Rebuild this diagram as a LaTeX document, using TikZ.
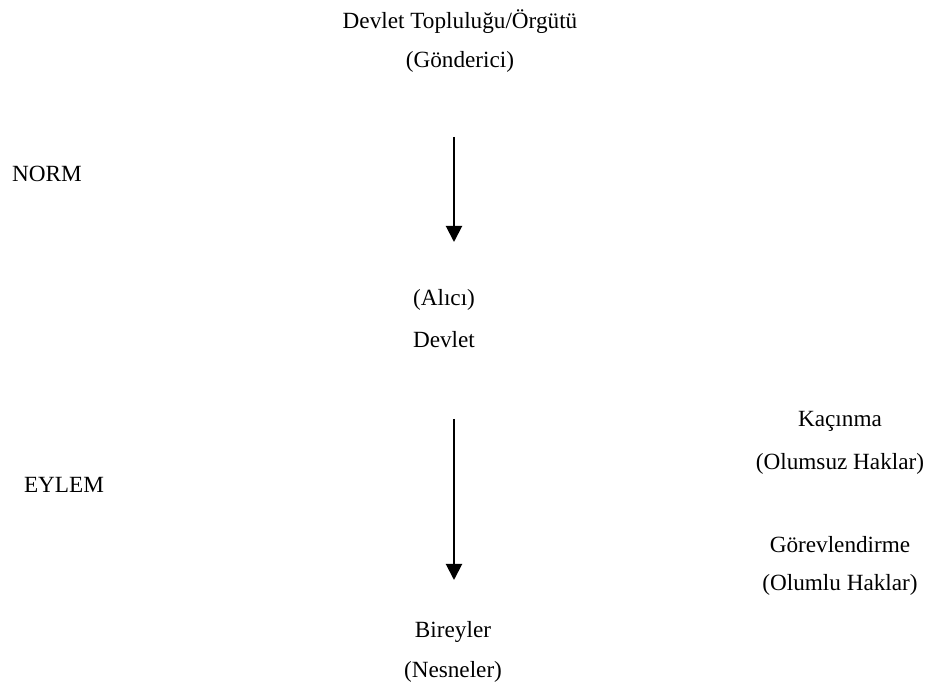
\documentclass[tikz,border=0pt]{standalone}
\usepackage{fontspec}
\setmainfont{Liberation Serif}
\usetikzlibrary{arrows.meta}
\begin{document}
\begin{tikzpicture}[x=0.01cm,y=-0.01cm,
  lbl/.style={inner sep=0pt,font=\fontsize{6.6}{8}\selectfont},
  flow/.style={line width=0.02cm,-{Triangle[width=0.16cm,length=0.16cm]}}]
\useasboundingbox (0,0) rectangle (932,691);
\node[lbl] (send1) at (460,22) {Devlet Topluluğu/Örgütü};
\node[lbl] (send2) at (460,62) {(Gönderici)};
\node[lbl] (norm) at (47,174) {NORM};
\node[lbl] (recv1) at (444,300) {(Alıcı)};
\node[lbl] (recv2) at (444,340) {Devlet};
\node[lbl] (eylem) at (64,485) {EYLEM};
\node[lbl] (kac1) at (840,421) {Kaçınma};
\node[lbl] (kac2) at (840,464) {(Olumsuz Haklar)};
\node[lbl] (gor1) at (840,545) {Görevlendirme};
\node[lbl] (gor2) at (840,585) {(Olumlu Haklar)};
\node[lbl] (bir1) at (453,632) {Bireyler};
\node[lbl] (bir2) at (453,672) {(Nesneler)};
\coordinate (a1s) at (454,137);
\coordinate (a1e) at (454,242);
\coordinate (a2s) at (454,419);
\coordinate (a2e) at (454,580);
\draw[flow] (a1s) -- (a1e);
\draw[flow] (a2s) -- (a2e);
\end{tikzpicture}
\end{document}
